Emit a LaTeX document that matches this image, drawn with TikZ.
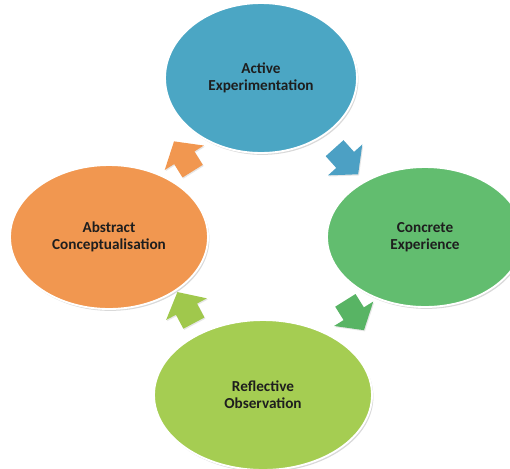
\documentclass[tikz,border=0pt]{standalone}
\usepackage{fontspec}
\setmainfont{Carlito}
\usepackage{tikz}
\usetikzlibrary{shapes.geometric,shapes.arrows,shadows,calc}

\definecolor{aeblue}{RGB}{75,166,196}
\definecolor{cegreen}{RGB}{98,189,111}
\definecolor{acorange}{RGB}{241,151,80}
\definecolor{rogreen}{RGB}{165,205,82}
\definecolor{arrgreen}{RGB}{88,180,100}
\definecolor{arrblue}{RGB}{76,160,196}
\definecolor{arrlime}{RGB}{160,200,76}
\definecolor{txt}{RGB}{30,30,30}

\begin{document}
\begin{tikzpicture}[x=0.03cm, y=-0.03cm]
        \tikzstyle{stage}=[ellipse, draw=white, line width=1.6pt, text=txt, align=center,
            font=\bfseries\fontsize{13}{14.5}\selectfont,
            drop shadow={opacity=0.3, shadow xshift=1.2pt, shadow yshift=-1.6pt}]
        \tikzstyle{turn}=[single arrow, inner xsep=0pt, inner ysep=10pt, minimum height=30pt,
            single arrow head extend=9.5pt, single arrow tip angle=100,
            drop shadow={opacity=0.2, shadow xshift=0.8pt, shadow yshift=-1pt}]

        \useasboundingbox (0,0) rectangle (510,468);
        \clip (0,0) rectangle (510,468);

        \node[stage, fill=aeblue, minimum width=192*0.03cm, minimum height=150*0.03cm]
            (ae) at (261,78) {Active\\Experimentation};
        \node[stage, fill=cegreen, minimum width=196*0.03cm, minimum height=140*0.03cm]
            (ce) at (425,237) {Concrete\\Experience};
        \node[stage, fill=acorange, minimum width=198*0.03cm, minimum height=144*0.03cm]
            (ac) at (109,237) {Abstract\\Conceptualisation};
        \node[stage, fill=rogreen, minimum width=218*0.03cm, minimum height=150*0.03cm]
            (ro) at (263,395) {Reflective\\Observation};

        % arrows round the cycle
        \node[turn, fill=arrblue, rotate=-48]   (t1) at ($(ae)!0.5!(ce)$) {};
        \node[turn, fill=arrgreen, rotate=-58]  (t2) at ($(ce)!0.5!(ro)+(8,-5)$) {};
        \node[turn, fill=arrlime, rotate=118]   (t3) at ($(ro)!0.5!(ac)+(2,-4)$) {};
        \node[turn, fill=acorange, rotate=122]  (t4) at ($(ac)!0.5!(ae)+(1,3)$) {};
\end{tikzpicture}
\end{document}
